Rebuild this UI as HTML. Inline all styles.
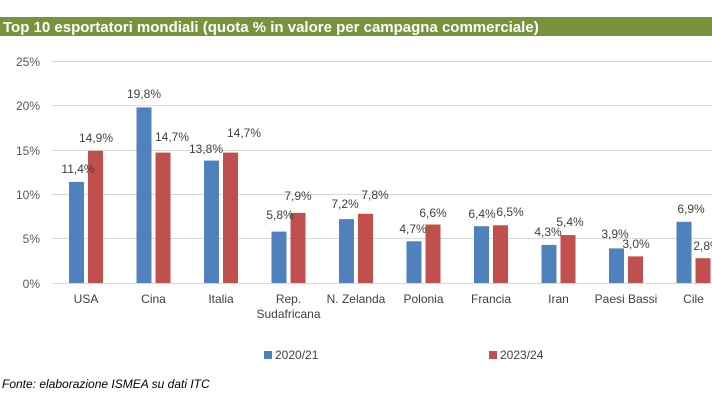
<!DOCTYPE html>
<html><head><meta charset="utf-8"><style>
body{margin:0;background:#fff;}
svg{display:block;font-family:"Liberation Sans",Arial,sans-serif;}
</style></head><body>
<svg width="712" height="401" viewBox="0 0 712 401">
<rect x="0" y="17" width="712" height="19" fill="#77933c"/>
<text x="3" y="32" fill="#fff" font-weight="bold" font-size="15">Top 10 esportatori mondiali (quota % in valore per campagna commerciale)</text>
<g stroke="#d9d9d9" stroke-width="1">
<line x1="52" x2="712" y1="61.5" y2="61.5"/>
<line x1="52" x2="712" y1="105.5" y2="105.5"/>
<line x1="52" x2="712" y1="150.5" y2="150.5"/>
<line x1="52" x2="712" y1="194.5" y2="194.5"/>
<line x1="52" x2="712" y1="238.5" y2="238.5"/>
<line x1="52" x2="712" y1="283.5" y2="283.5"/>
</g>
<g font-size="12" fill="#595959" text-anchor="end">
<text x="40" y="66">25%</text><text x="40" y="110">20%</text><text x="40" y="155">15%</text>
<text x="40" y="199">10%</text><text x="40" y="243">5%</text><text x="40" y="288">0%</text>
</g>
<g fill="#4f81bd">
<rect x="69" y="181.9" width="15" height="101.1"/>
<rect x="136.5" y="107.4" width="15" height="175.6"/>
<rect x="204" y="160.6" width="15" height="122.4"/>
<rect x="271.5" y="231.6" width="15" height="51.4"/>
<rect x="339" y="219.1" width="15" height="63.9"/>
<rect x="406.5" y="241.3" width="15" height="41.7"/>
<rect x="474" y="226.2" width="15" height="56.8"/>
<rect x="541.5" y="244.9" width="15" height="38.1"/>
<rect x="609" y="248.4" width="15" height="34.6"/>
<rect x="676.5" y="221.8" width="15" height="61.2"/>
</g>
<g fill="#c0504d">
<rect x="88" y="150.8" width="15" height="132.2"/>
<rect x="155.5" y="152.6" width="15" height="130.4"/>
<rect x="223" y="152.6" width="15" height="130.4"/>
<rect x="290.5" y="212.9" width="15" height="70.1"/>
<rect x="358" y="213.8" width="15" height="69.2"/>
<rect x="425.5" y="224.5" width="15" height="58.5"/>
<rect x="493" y="225.3" width="15" height="57.7"/>
<rect x="560.5" y="235.1" width="15" height="47.9"/>
<rect x="628" y="256.4" width="15" height="26.6"/>
<rect x="695.5" y="258.2" width="15" height="24.8"/>
</g>
<g font-size="12" fill="#404040" text-anchor="middle">
<text x="78" y="173">11,4%</text><text x="96" y="142">14,9%</text>
<text x="144" y="98">19,8%</text><text x="172" y="141">14,7%</text>
<text x="206" y="153">13,8%</text><text x="244" y="137">14,7%</text>
<text x="280" y="219">5,8%</text><text x="298" y="200">7,9%</text>
<text x="345" y="208">7,2%</text><text x="375" y="199">7,8%</text>
<text x="413" y="233">4,7%</text><text x="433" y="217">6,6%</text>
<text x="482" y="218">6,4%</text><text x="510" y="216">6,5%</text>
<text x="548" y="236">4,3%</text><text x="570" y="226">5,4%</text>
<text x="615" y="238">3,9%</text><text x="636" y="248">3,0%</text>
<text x="691" y="213">6,9%</text><text x="707" y="250">2,8%</text>
</g>
<g font-size="12" fill="#404040" text-anchor="middle">
<text x="86" y="303">USA</text><text x="153.5" y="303">Cina</text><text x="221" y="303">Italia</text>
<text x="288.5" y="303">Rep.</text><text x="288.5" y="318">Sudafricana</text>
<text x="356" y="303">N. Zelanda</text><text x="423.5" y="303">Polonia</text><text x="491" y="303">Francia</text>
<text x="558.5" y="303">Iran</text><text x="626" y="303">Paesi Bassi</text><text x="693.5" y="303">Cile</text>
</g>
<rect x="264" y="351" width="8" height="8" fill="#4f81bd"/>
<text x="275" y="359" font-size="12" fill="#404040">2020/21</text>
<rect x="489" y="351" width="8" height="8" fill="#c0504d"/>
<text x="500" y="359" font-size="12" fill="#404040">2023/24</text>
<text x="2" y="388" font-size="12" font-style="italic" fill="#000">Fonte: elaborazione ISMEA su dati ITC</text>
</svg>
</body></html>
